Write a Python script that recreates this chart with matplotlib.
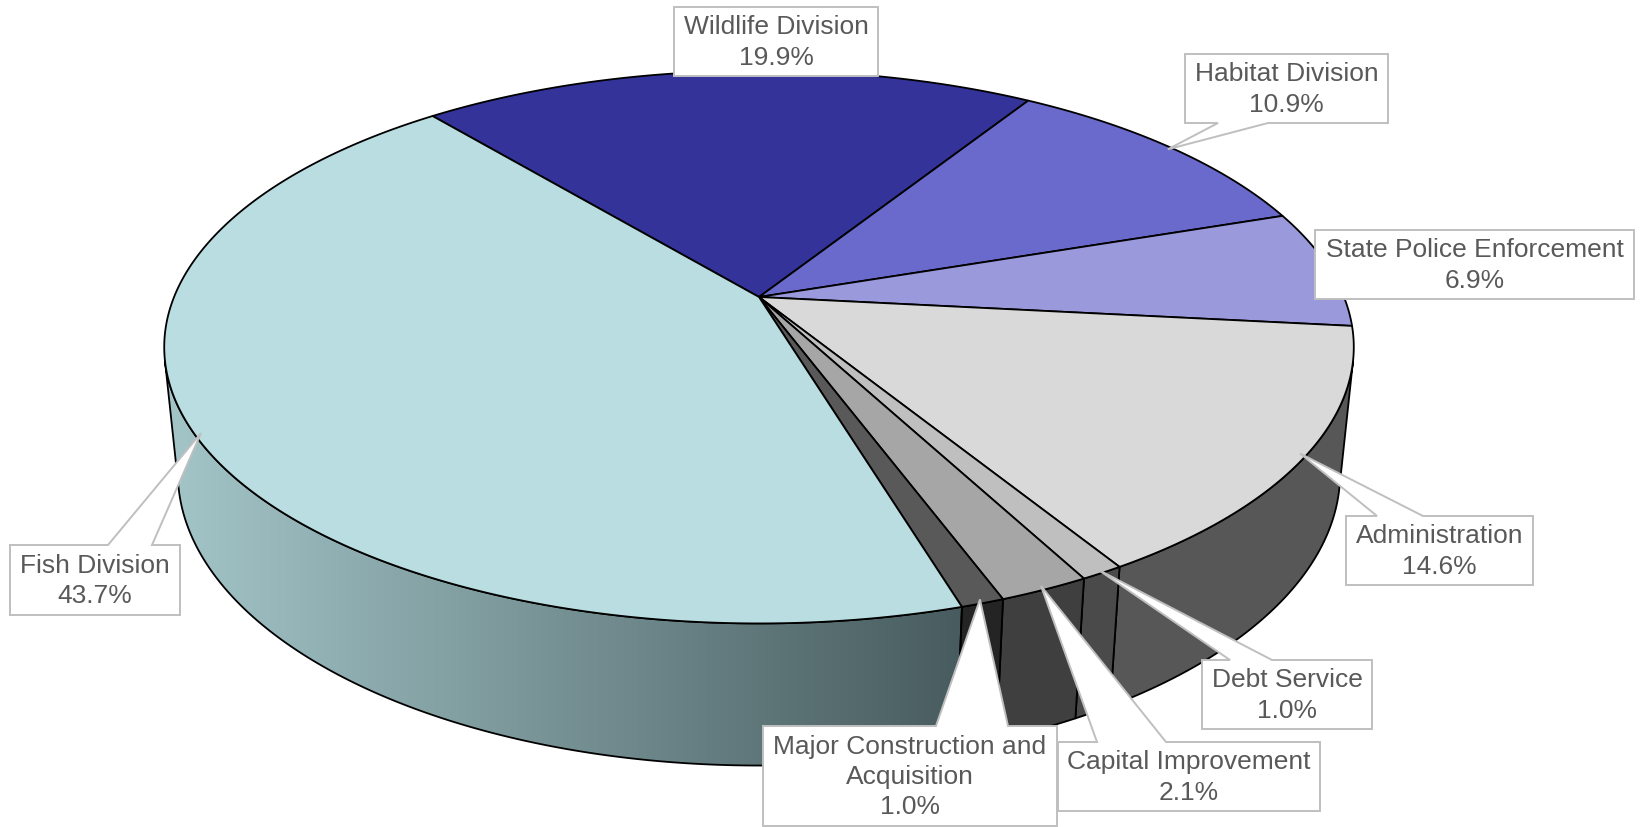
import numpy as np
import matplotlib
matplotlib.use("Agg")
import matplotlib.pyplot as plt
from matplotlib.patches import Polygon

# ---------------- data ----------------
labels = ["Wildlife Division", "Habitat Division", "State Police Enforcement",
          "Administration", "Debt Service", "Capital Improvement",
          "Major Construction and\nAcquisition", "Fish Division"]
values = [19.9, 10.9, 6.9, 14.6, 1.0, 2.1, 1.0, 43.7]

# ---------------- style ----------------
top_colors = ["#333399", "#6A6ACC", "#9999DC", "#D9D9D9",
              "#BFBFBF", "#A6A6A6", "#595959", "#B9DDE0"]
side_colors = ["#14143D", "#2A2A52", "#3D3D58", "#575757",
               "#4A4A4A", "#3F3F3F", "#242424", None]
fish_grad = [(164, 198, 201), (72, 92, 95)]

plt.rcParams['font.family'] = ['Liberation Sans', 'DejaVu Sans']

W, Hpx = 1643, 827
fig = plt.figure(figsize=(W / 100, Hpx / 100), dpi=100)
ax = fig.add_axes([0, 0, 1, 1])

# perspective model of the 3D pie
CX, CY = 759.0, 297.0
sin_e = 0.457
cos_e = np.sqrt(1 - sin_e ** 2)
R = 0.2036
F = 2873.0
TH = 0.0497
START = 129.5
LW = 1.3


def proj(tdeg, z, r=R):
    t = np.radians(tdeg)
    X = r * np.cos(t)
    Y = r * np.sin(t)
    depth = 1 + Y * cos_e - z * sin_e
    sx = F * X / depth
    sy = F * (Y * sin_e + z * cos_e) / depth
    return CX + sx, CY - sy


total = sum(values)
bounds = []
cur = START
for v in values:
    a0 = cur
    a1 = cur - 360.0 * v / total
    bounds.append((a1, a0))
    cur = a1

lim = np.degrees(np.arcsin(R / cos_e))
vis_lo, vis_hi = -180 + lim, -lim

# sides
for i, (a1, a0) in enumerate(bounds):
    for k in (-1, 0, 1):
        lo = max(a1, vis_lo + 360 * k)
        hi = min(a0, vis_hi + 360 * k)
        if hi <= lo:
            continue
        ts = np.linspace(lo, hi, 200)
        tx, ty = proj(ts, 0.0)
        bx, by = proj(ts[::-1], -TH)
        pts = np.column_stack([np.concatenate([tx, bx]), np.concatenate([ty, by])])
        if side_colors[i] is None:
            poly = Polygon(pts, closed=True, facecolor='none', edgecolor='black',
                           lw=LW, zorder=3, joinstyle='round')
            ax.add_patch(poly)
            x0, x1 = pts[:, 0].min(), pts[:, 0].max()
            n = 400
            c0 = np.array(fish_grad[0]) / 255
            c1 = np.array(fish_grad[1]) / 255
            fr = np.linspace(0, 1, n)[:, None]
            grad = (c0 * (1 - fr) + c1 * fr)[None, :, :]
            im = ax.imshow(grad, extent=[x0, x1, pts[:, 1].max(), pts[:, 1].min()],
                           aspect='auto', zorder=1, interpolation='bilinear')
            clip = Polygon(pts, closed=True, transform=ax.transData)
            im.set_clip_path(clip)
        else:
            poly = Polygon(pts, closed=True, facecolor=side_colors[i],
                           edgecolor='black', lw=LW, zorder=2, joinstyle='round')
            ax.add_patch(poly)

# tops
for i, (a1, a0) in enumerate(bounds):
    ts = np.linspace(a0, a1, 300)
    tx, ty = proj(ts, 0.0)
    pts = np.column_stack([np.concatenate([[CX], tx]), np.concatenate([[CY], ty])])
    ax.add_patch(Polygon(pts, closed=True, facecolor=top_colors[i],
                         edgecolor='black', lw=LW, zorder=4, joinstyle='round'))

# callouts
boxes = [(674, 7, 878, 76), (1185, 54, 1388, 123), (1315, 230, 1634, 299),
         (1346, 516, 1533, 585), (1202, 660, 1372, 729), (1058, 742, 1320, 811),
         (763, 726, 1057, 826), (10, 545, 180, 615)]
wedges = [None, ('bottom', 1218, 1268), None, ('top', 1377, 1423),
          ('top', 1230, 1272), ('top', 1097, 1166), ('top', 936, 1008),
          ('top', 108, 152)]
for i in range(len(labels)):
    x0, y0, x1, y1 = boxes[i]
    w = wedges[i]
    if w is None:
        pts = [(x0, y0), (x1, y0), (x1, y1), (x0, y1)]
    else:
        a1, a0 = bounds[i]
        tipx, tipy = proj((a0 + a1) / 2, 0.0, R * 0.99)
        edge, bx0, bx1 = w
        if edge == 'top':
            pts = [(x0, y0), (bx0, y0), (tipx, tipy), (bx1, y0), (x1, y0), (x1, y1), (x0, y1)]
        else:
            pts = [(x0, y0), (x1, y0), (x1, y1), (bx1, y1), (tipx, tipy), (bx0, y1), (x0, y1)]
    ax.add_patch(Polygon(pts, closed=True, facecolor='white', edgecolor='#BFBFBF',
                         lw=1.4, zorder=10 + i, joinstyle='miter'))
    txt = f"{labels[i]}\n{values[i]:.1f}%"
    ax.text((x0 + x1) / 2, (y0 + y1) / 2 + 1, txt, ha='center', va='center',
            fontsize=19, color='#595959', linespacing=1.33, zorder=20 + i)

ax.set_xlim(0, W)
ax.set_ylim(Hpx, 0)
ax.axis('off')
fig.savefig("out.png", dpi=100)
